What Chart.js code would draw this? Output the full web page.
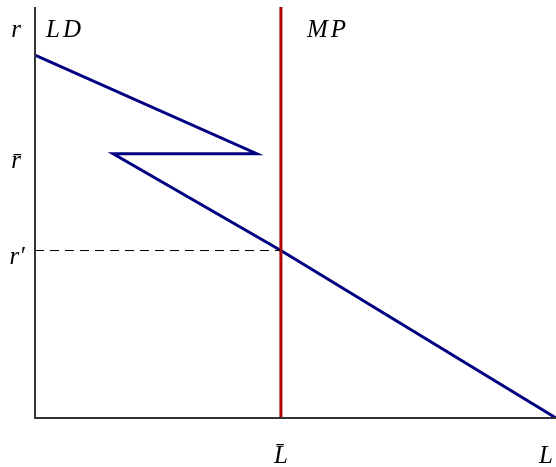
<!DOCTYPE html>
<html>
<head>
<meta charset="utf-8">
<script src="https://cdn.jsdelivr.net/npm/chart.js@4"></script>
<style>
  body { margin: 0; background: #fff; }
  #wrap { width: 556px; height: 467px; }
</style>
</head>
<body>
<div id="wrap"><canvas id="c" width="556" height="467"></canvas></div>
<script>
// LD curve (x = L, y = r)
const ldX = [0, 42.55, 15.0, 47.2, 100];
const ldY = [88.3, 64.3, 64.3, 40.75, 0];

// MP is vertical at L-bar
const mpX = 47.2;
const rBar = 64.3;
const rPrime = 40.75;

const yLabels = ["r\u0304", "r\u2032"];
const xLabels = ["L\u0304", "L"];

const ldColor = "#000080";
const mpColor = "#b00000";
const font = "italic 25px 'Liberation Serif'";

const axesPlugin = {
    id: 'econAxes',
    afterDatasetsDraw(chart) {
        const ctx = chart.ctx;
        const x = chart.scales.x;
        const y = chart.scales.y;
        const x0 = x.getPixelForValue(0);
        const y0 = y.getPixelForValue(0);

        ctx.save();
        // axes
        ctx.strokeStyle = "#333";
        ctx.lineWidth = 2;
        ctx.beginPath();
        ctx.moveTo(x0, y.getPixelForValue(100));
        ctx.lineTo(x0, y0);
        ctx.lineTo(x.getPixelForValue(100), y0);
        ctx.stroke();

        // text
        ctx.fillStyle = "#000";
        ctx.font = font;
        ctx.textBaseline = "alphabetic";
        ctx.textAlign = "center";
        ctx.fillText("r", x0 - 19, 37);
        ctx.fillText(yLabels[0], x0 - 19, y.getPixelForValue(rBar) + 14);
        ctx.fillText(yLabels[1], x0 - 18, y.getPixelForValue(rPrime) + 13);
        ctx.fillText(xLabels[0], x.getPixelForValue(mpX), y0 + 45);
        ctx.fillText(xLabels[1], x.getPixelForValue(100) - 10, y0 + 45);
        ctx.textAlign = "left";
        ctx.letterSpacing = "3px";
        ctx.fillText("LD", x0 + 11, 37);
        ctx.fillText("MP", x.getPixelForValue(mpX) + 26, 37);
        ctx.restore();
    }
};

new Chart(document.getElementById('c'), {
    type: 'scatter',
    data: {
        datasets: [
            {
                label: 'r prime',
                data: [{ x: 0, y: rPrime }, { x: mpX, y: rPrime }],
                showLine: true,
                borderColor: "#000",
                borderWidth: 1,
                borderDash: [9, 6],
                pointRadius: 0
            },
            {
                label: 'MP',
                data: [{ x: mpX, y: 0 }, { x: mpX, y: 100 }],
                showLine: true,
                borderColor: mpColor,
                borderWidth: 3,
                pointRadius: 0
            },
            {
                label: 'LD',
                data: ldX.map((v, i) => ({ x: v, y: ldY[i] })),
                showLine: true,
                borderColor: ldColor,
                borderWidth: 3,
                pointRadius: 0,
                borderJoinStyle: 'miter'
            }
        ]
    },
    options: {
        responsive: false,
        animation: false,
        layout: { padding: { left: 35, right: 0, top: 7, bottom: 49 } },
        plugins: {
            legend: { display: false },
            tooltip: { enabled: false }
        },
        scales: {
            x: { type: 'linear', min: 0, max: 100, display: false },
            y: { type: 'linear', min: 0, max: 100, display: false }
        }
    },
    plugins: [axesPlugin]
});
</script>
</body>
</html>
